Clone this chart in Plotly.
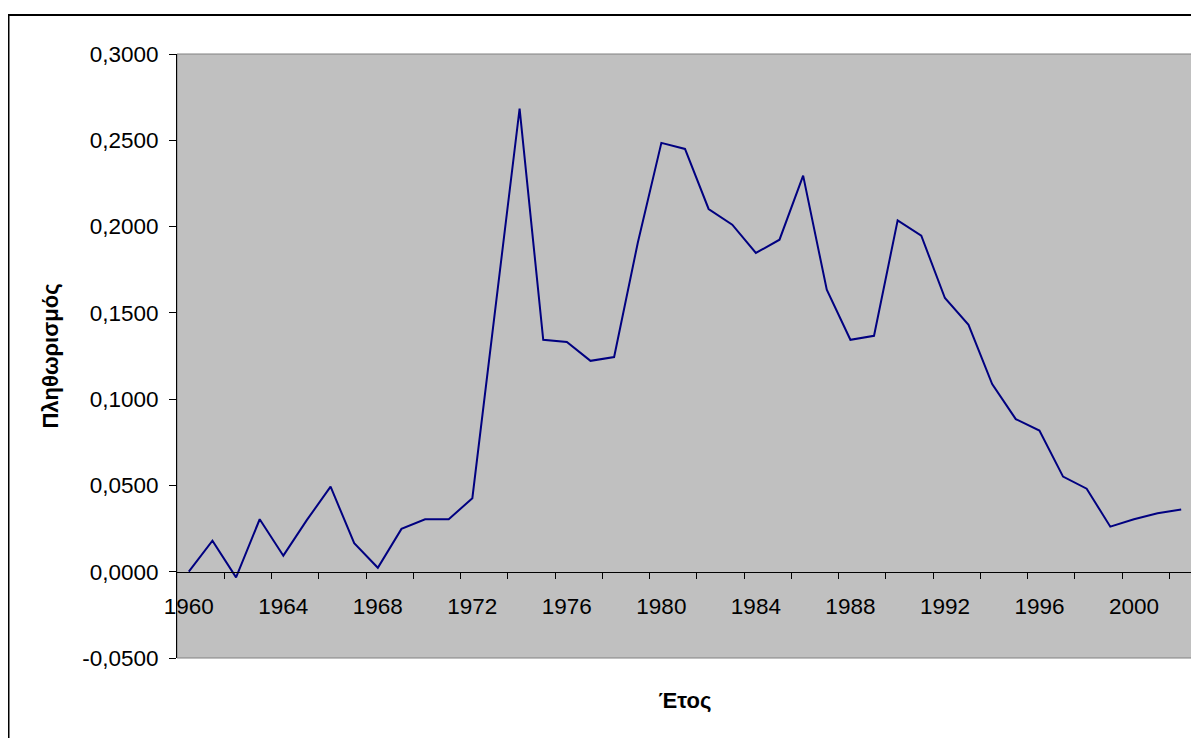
import plotly.graph_objects as go

years = list(range(1960, 2003))
inflation = [0.0000, 0.0180, -0.0033, 0.0304, 0.0093, 0.0300, 0.0493, 0.0165, 0.0023, 0.0248,
             0.0304, 0.0304, 0.0426, 0.1555, 0.2684, 0.1344, 0.1331, 0.1222, 0.1244, 0.1905,
             0.2485, 0.2450, 0.2102, 0.2011, 0.1847, 0.1924, 0.2295, 0.1634, 0.1344, 0.1367,
             0.2036, 0.1947, 0.1586, 0.1431, 0.1087, 0.0884, 0.0818, 0.0551, 0.0481, 0.0261,
             0.0304, 0.0339, 0.0360]

x_label_years = list(range(1960, 2001, 4))
x_tick_marks = [y + 0.5 for y in range(1961, 2002, 2)]
y_tick_vals = [-0.05, 0.0, 0.05, 0.10, 0.15, 0.20, 0.25, 0.30]
y_tick_text = ["-0,0500", "0,0000", "0,0500", "0,1000", "0,1500", "0,2000", "0,2500", "0,3000"]

x_title = "Έτος"
y_title = "Πληθωρισμός"

FONT = "Arial, 'Liberation Sans', sans-serif"

W, H = 1191, 730
ML, MR, MT, MB = 169, 6, 46, 80
PW, PH = W - ML - MR, H - MT - MB

fig = go.Figure()
fig.add_trace(go.Scatter(
    x=years, y=inflation, mode="lines",
    line=dict(color="#000080", width=2),
    hoverinfo="x+y", showlegend=False,
))

y_min, y_max = -0.05, 0.30

fig.update_layout(
    width=W, height=H,
    margin=dict(l=ML, r=MR, t=MT, b=MB),
    paper_bgcolor="white",
    plot_bgcolor="#C0C0C0",
    font=dict(family=FONT, color="black", size=22),
    separators=",.",
    xaxis=dict(
        range=[1959.5, 2002.5],
        anchor="free",
        position=(0 - y_min) / (y_max - y_min),
        showline=True, linecolor="black", linewidth=1,
        showgrid=False, zeroline=False,
        tickmode="array", tickvals=x_label_years,
        ticks="", ticklabelstandoff=14,
        tickfont=dict(size=22.5),
        minor=dict(tickmode="array", tickvals=x_tick_marks, ticks="outside",
                   ticklen=6, tickcolor="black", tickwidth=1, showgrid=False),
        title=dict(text=x_title, font=dict(size=22, weight="bold"), standoff=74),
        automargin=False,
    ),
    yaxis=dict(
        range=[y_min, y_max],
        showline=True, linecolor="black", linewidth=1,
        showgrid=False, zeroline=False,
        tickmode="array", tickvals=y_tick_vals, ticktext=y_tick_text,
        ticks="outside", ticklen=7, tickcolor="black", tickwidth=1,
        ticklabelstandoff=6,
        tickfont=dict(size=22.5),
        title=dict(text=y_title, font=dict(size=22, weight="bold"), standoff=17),
        automargin=False,
    ),
    shapes=[
        dict(type="rect", xref="paper", yref="paper", x0=0, x1=1, y0=0, y1=1,
             line=dict(color="#808080", width=1), fillcolor="rgba(0,0,0,0)", layer="below"),
        dict(type="rect", xref="paper", yref="paper",
             x0=(0.5 - ML) / PW, x1=1.1, y0=-0.3, y1=1 + (MT - 7) / PH,
             line=dict(color="black", width=2), fillcolor="rgba(0,0,0,0)", layer="above"),
    ],
)

fig.write_html("out.html")
